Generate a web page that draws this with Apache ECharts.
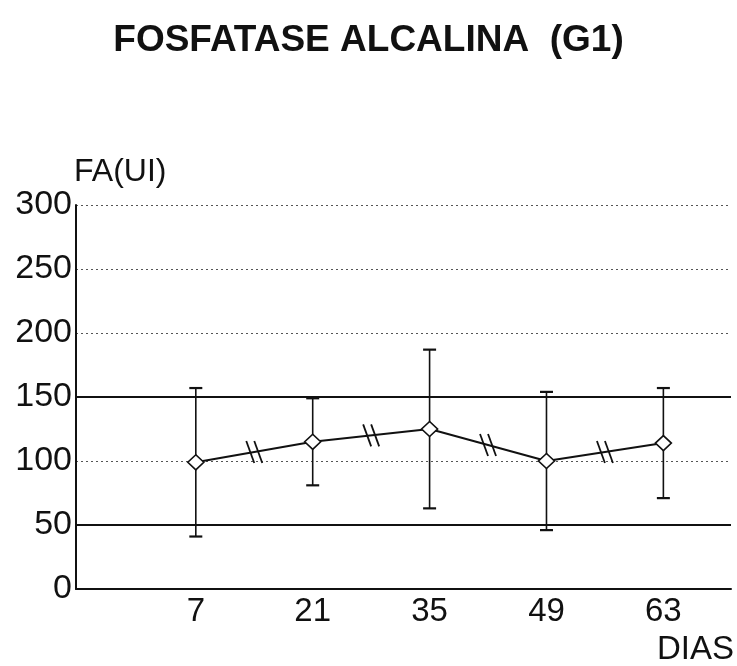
<!DOCTYPE html>
<html>
<head>
<meta charset="utf-8">
<script src="https://cdn.jsdelivr.net/npm/echarts@6/dist/echarts.min.js"></script>
<style>
  html, body { margin: 0; padding: 0; background: #fff; }
  #chart { width: 737px; height: 666px; }
</style>
</head>
<body>
<div id="chart"></div>
<script>
// Sampling days and alkaline phosphatase (mean ± SD) for group G1
const days = [7, 21, 35, 49, 63];
const meanFA = [99, 115, 125, 100, 114];
const sdFA = [58, 34, 62, 54, 43];
const yTicks = [0, 50, 100, 150, 200, 250, 300];
const referenceLimits = [50, 150];

const FONT = '"Liberation Sans", Arial, sans-serif';
const INK = '#111';

const chart = echarts.init(document.getElementById('chart'));

const meanPoints = days.map((d, i) => [d, meanFA[i]]);
const errorData = days.map((d, i) => [d, meanFA[i] - sdFA[i], meanFA[i] + sdFA[i]]);
// axis-break marks sit halfway along each connecting segment
const breakData = days.slice(0, -1).map((d, i) => [
  (d + days[i + 1]) / 2,
  (meanFA[i] + meanFA[i + 1]) / 2
]);

chart.setOption({
  backgroundColor: '#fff',
  animation: false,
  title: {
    text: 'FOSFATASE ALCALINA  (G1)',
    left: 'center',
    top: 17,
    textStyle: { fontFamily: FONT, fontSize: 37, fontWeight: 'bold', color: INK }
  },
  grid: { left: 76, right: 5, top: 205, bottom: 76, containLabel: false },
  xAxis: {
    type: 'value',
    min: -7.35,
    max: 71.1,
    name: 'DIAS',
    nameLocation: 'end',
    nameGap: 0,
    nameTextStyle: {
      fontFamily: FONT, fontSize: 33, color: INK,
      align: 'right', verticalAlign: 'top', padding: [44, -3, 0, 0]
    },
    axisLine: { show: true, lineStyle: { color: INK, width: 2 } },
    axisTick: { show: false },
    splitLine: { show: false },
    axisLabel: {
      customValues: days,
      fontFamily: FONT, fontSize: 33, color: INK, margin: 6
    }
  },
  yAxis: {
    type: 'value',
    min: 0,
    max: 300,
    interval: 50,
    name: 'FA(UI)',
    nameLocation: 'end',
    nameGap: 0,
    nameTextStyle: {
      fontFamily: FONT, fontSize: 32, color: INK,
      align: 'left', verticalAlign: 'bottom', padding: [0, 0, -4, -2]
    },
    axisLine: { show: true, onZero: false, lineStyle: { color: INK, width: 2 } },
    axisTick: { show: false },
    splitLine: { show: true, lineStyle: { color: '#555', width: 1, type: [2, 3] } },
    axisLabel: {
      customValues: yTicks,
      fontFamily: FONT, fontSize: 34, color: INK, margin: 4
    }
  },
  series: [
    {
      name: 'desvio',
      type: 'custom',
      z: 2,
      data: errorData,
      renderItem: function (params, api) {
        const x = api.value(0);
        const lo = api.coord([x, api.value(1)]);
        const hi = api.coord([x, api.value(2)]);
        const cap = 6.5;
        const style = { stroke: INK, lineWidth: 1.6 };
        return {
          type: 'group',
          children: [
            { type: 'line', shape: { x1: lo[0], y1: lo[1], x2: hi[0], y2: hi[1] }, style: style },
            { type: 'line', shape: { x1: lo[0] - cap, y1: lo[1], x2: lo[0] + cap, y2: lo[1] }, style: { stroke: INK, lineWidth: 2.2 } },
            { type: 'line', shape: { x1: hi[0] - cap, y1: hi[1], x2: hi[0] + cap, y2: hi[1] }, style: { stroke: INK, lineWidth: 2.2 } }
          ]
        };
      }
    },
    {
      name: 'FA',
      type: 'line',
      z: 3,
      data: meanPoints,
      symbol: 'diamond',
      symbolSize: [16, 15],
      itemStyle: { color: '#fff', borderColor: INK, borderWidth: 1.6 },
      lineStyle: { color: INK, width: 2 },
      markLine: {
        silent: true,
        symbol: 'none',
        label: { show: false },
        lineStyle: { color: INK, width: 2, type: 'solid' },
        data: referenceLimits.map(v => ({ yAxis: v }))
      }
    },
    {
      name: 'quebra',
      type: 'custom',
      z: 4,
      data: breakData,
      renderItem: function (params, api) {
        const c = api.coord([api.value(0), api.value(1)]);
        const style = { stroke: INK, lineWidth: 1.8 };
        const half = 11, lean = 4;
        return {
          type: 'group',
          children: [-4, 4].map(off => ({
            type: 'line',
            shape: { x1: c[0] + off - lean, y1: c[1] - half, x2: c[0] + off + lean, y2: c[1] + half },
            style: style
          }))
        };
      }
    }
  ]
});
</script>
</body>
</html>
